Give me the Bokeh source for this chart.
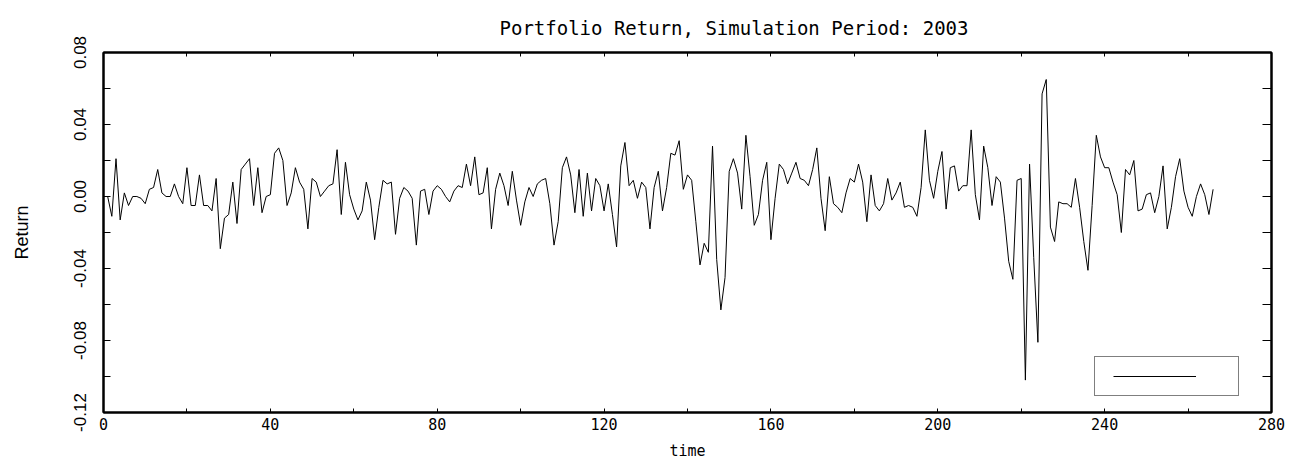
from bokeh.plotting import figure
from bokeh.models import Range1d, FixedTicker, LinearAxis, Legend, LegendItem, PrintfTickFormatter
from bokeh.core.properties import value
from bokeh.embed import file_html
from bokeh.resources import INLINE

returns = [
    0.000, -0.011, 0.021, -0.013, 0.002, -0.005, 0.000, 0.000, -0.001, -0.004,
    0.004, 0.005, 0.015, 0.002, 0.000, 0.000, 0.007, 0.000, -0.004, 0.016,
    -0.005, -0.005, 0.012, -0.005, -0.005, -0.008, 0.010, -0.029, -0.012, -0.010,
    0.008, -0.015, 0.015, 0.018, 0.021, -0.005, 0.016, -0.009, 0.000, 0.001,
    0.024, 0.027, 0.020, -0.005, 0.002, 0.016, 0.008, 0.004, -0.018, 0.010,
    0.008, 0.000, 0.003, 0.006, 0.007, 0.026, -0.010, 0.019, 0.001, -0.007,
    -0.013, -0.008, 0.008, -0.002, -0.024, -0.006, 0.009, 0.007, 0.008, -0.021,
    -0.001, 0.005, 0.003, -0.001, -0.027, 0.003, 0.004, -0.010, 0.003, 0.006,
    0.004, 0.000, -0.003, 0.003, 0.006, 0.005, 0.018, 0.006, 0.022, 0.001,
    0.002, 0.016, -0.018, 0.004, 0.013, 0.006, -0.005, 0.014, -0.002, -0.016,
    -0.003, 0.005, 0.000, 0.007, 0.009, 0.010, -0.004, -0.027, -0.014, 0.016,
    0.022, 0.012, -0.009, 0.015, -0.011, 0.013, -0.008, 0.010, 0.006, -0.008,
    0.007, -0.010, -0.028, 0.017, 0.030, 0.006, 0.009, -0.001, 0.008, 0.005,
    -0.018, 0.005, 0.014, -0.008, 0.005, 0.024, 0.023, 0.031, 0.004, 0.012,
    0.009, -0.014, -0.038, -0.026, -0.031, 0.028, -0.035, -0.063, -0.045, 0.014,
    0.021, 0.013, -0.007, 0.034, 0.011, -0.016, -0.010, 0.009, 0.019, -0.024,
    -0.001, 0.018, 0.015, 0.007, 0.013, 0.019, 0.010, 0.009, 0.006, 0.015,
    0.027, -0.001, -0.019, 0.011, -0.004, -0.006, -0.009, 0.002, 0.010, 0.008,
    0.018, 0.008, -0.014, 0.012, -0.005, -0.008, -0.004, 0.010, -0.002, 0.002,
    0.008, -0.006, -0.005, -0.006, -0.011, 0.005, 0.037, 0.009, -0.001, 0.014,
    0.025, -0.007, 0.016, 0.017, 0.003, 0.006, 0.006, 0.037, 0.001, -0.013,
    0.028, 0.016, -0.005, 0.011, 0.008, -0.012, -0.036, -0.046, 0.009, 0.010,
    -0.102, 0.018, -0.034, -0.081, 0.057, 0.065, -0.017, -0.025, -0.003, -0.004,
    -0.004, -0.006, 0.010, -0.006, -0.025, -0.041, -0.005, 0.034, 0.022, 0.016,
    0.016, 0.008, 0.001, -0.020, 0.015, 0.012, 0.020, -0.008, -0.007, 0.001,
    0.002, -0.009, 0.000, 0.017, -0.018, -0.006, 0.011, 0.021, 0.003, -0.006,
    -0.011, 0.000, 0.007, 0.001, -0.010, 0.004,
]
time = list(range(1, len(returns) + 1))

x_ticks = [0, 40, 80, 120, 160, 200, 240, 280]
x_minor = [20, 60, 100, 140, 180, 220, 260]
y_ticks = [-0.12, -0.08, -0.04, 0.0, 0.04, 0.08]
y_minor = [-0.10, -0.06, -0.02, 0.02, 0.06]

title_text = "Portfolio Return, Simulation Period: 2003"
x_label = "time"
y_label = "Return"

p = figure(
    frame_width=1168, frame_height=360,
    x_range=Range1d(0, 280), y_range=Range1d(-0.12, 0.08),
    output_backend="svg", toolbar_location=None, tools="",
    min_border_left=103, min_border_right=36, min_border_top=52, min_border_bottom=50,
    x_axis_location=None, y_axis_location=None,
)
p.background_fill_color = "white"
p.border_fill_color = "white"
p.grid.visible = False
p.outline_line_color = "black"
p.outline_line_width = 2

mono = "DejaVu Sans Mono"

def style_axis(ax, ticker, show_labels):
    ax.ticker = ticker
    ax.axis_line_color = "black"
    ax.axis_line_width = 2
    ax.major_tick_in = 7
    ax.major_tick_out = 0
    ax.minor_tick_in = 7
    ax.minor_tick_out = 0
    ax.major_tick_line_color = "black"
    ax.minor_tick_line_color = "black"
    ax.major_label_text_color = "black"
    ax.axis_label_text_color = "black"
    if not show_labels:
        ax.major_label_text_font_size = "0px"
        ax.major_label_text_color = None
        ax.major_label_standoff = 0

xt = FixedTicker(ticks=x_ticks, minor_ticks=x_minor)
yt = FixedTicker(ticks=y_ticks, minor_ticks=y_minor)

xb = LinearAxis(axis_label=x_label)
style_axis(xb, xt, True)
xb.major_tick_in = 4
xb.minor_tick_in = 4
xb.major_label_text_font = mono
xb.major_label_text_font_size = "15px"
xb.major_label_standoff = 5
xb.axis_label_text_font = mono
xb.axis_label_text_font_size = "15px"
xb.axis_label_text_font_style = "normal"
xb.axis_label_standoff = 9
p.add_layout(xb, "below")

xa = LinearAxis()
style_axis(xa, FixedTicker(ticks=x_ticks, minor_ticks=x_minor), False)
xa.major_tick_in = 4
xa.minor_tick_in = 4
p.add_layout(xa, "above")

yl = LinearAxis(axis_label=y_label)
style_axis(yl, yt, True)
yl.formatter = PrintfTickFormatter(format="%.2f")
yl.major_label_orientation = "vertical"
yl.major_label_text_font = "Liberation Sans"
yl.major_label_text_font_size = "17px"
yl.major_label_standoff = 18
yl.axis_label_text_font = "Liberation Sans"
yl.axis_label_text_font_size = "18px"
yl.axis_label_text_font_style = "normal"
yl.axis_label_standoff = 39
p.add_layout(yl, "left")

yr = LinearAxis()
style_axis(yr, FixedTicker(ticks=y_ticks, minor_ticks=y_minor), False)
yr.major_tick_in = 9
yr.minor_tick_in = 9
p.add_layout(yr, "right")

p.title.text = title_text
p.title.text_font = mono
p.title.text_font_size = "19px"
p.title.text_font_style = "normal"
p.title.text_color = "black"
p.title.align = "left"
p.title.offset = 396
p.title.standoff = 28

r = p.line(time, returns, line_color="black", line_width=1)

legend = Legend(
    items=[LegendItem(label=value(""), renderers=[r])],
    location=(991, 16),
    padding=18, margin=0, spacing=0,
    glyph_width=83, glyph_height=2,
    label_width=24, label_height=2, label_standoff=0,
    label_text_font_size="1px",
    border_line_color="black", border_line_width=1,
    background_fill_color="white", background_fill_alpha=1.0,
)
p.add_layout(legend)

open("out.html", "w").write(file_html(p, INLINE))
